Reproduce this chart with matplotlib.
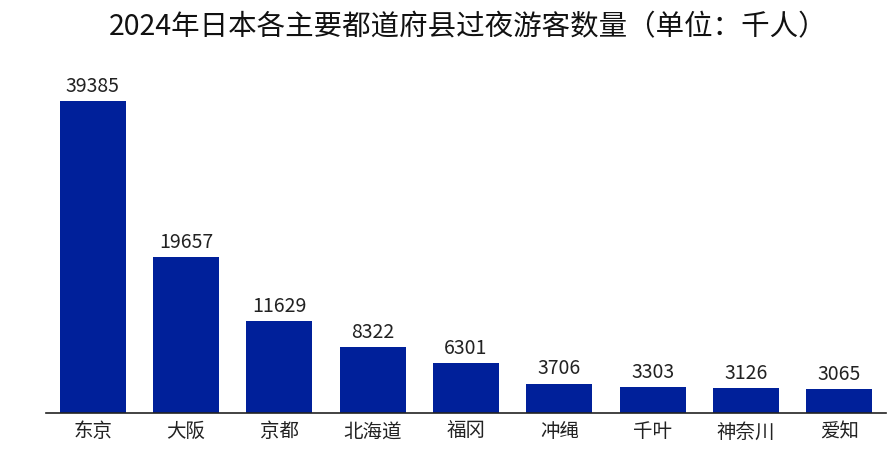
import matplotlib
matplotlib.use("Agg")
import matplotlib.pyplot as plt

plt.rcParams["font.family"] = ["Noto Sans CJK SC", "DejaVu Sans"]

prefectures = ["东京", "大阪", "京都", "北海道", "福冈", "冲绳", "千叶", "神奈川", "爱知"]
visitors = [39385, 19657, 11629, 8322, 6301, 3706, 3303, 3126, 3065]
title = "2024年日本各主要都道府县过夜游客数量（单位：千人）"

W, H = 896, 455
fig = plt.figure(figsize=(W / 100, H / 100), dpi=100)
ax = fig.add_axes([46 / W, (H - 413) / H, 840 / W, (413 - 80) / H])

x = range(len(prefectures))
bars = ax.bar(x, visitors, width=0.71, color="#00209a")
for b, v in zip(bars, visitors):
    ax.text(b.get_x() + b.get_width() / 2, v + 1150, str(v),
            ha="center", va="baseline", fontsize=14, color="#222222")

ax.set_xlim(-0.5, len(prefectures) - 0.5)
ax.set_ylim(0, 42000)
ax.set_xticks(list(x))
ax.set_xticklabels(prefectures, fontsize=14, color="#222222")
ax.tick_params(axis="x", length=0, pad=6)
ax.set_yticks([])
for s in ["top", "right", "left"]:
    ax.spines[s].set_visible(False)
ax.spines["bottom"].set_linewidth(1.2)
ax.spines["bottom"].set_color("#222222")

fig.text(468 / W, (H - 27) / H, title, ha="center", va="center", fontsize=20.5, color="#111111")

fig.savefig("out.png", dpi=100)
